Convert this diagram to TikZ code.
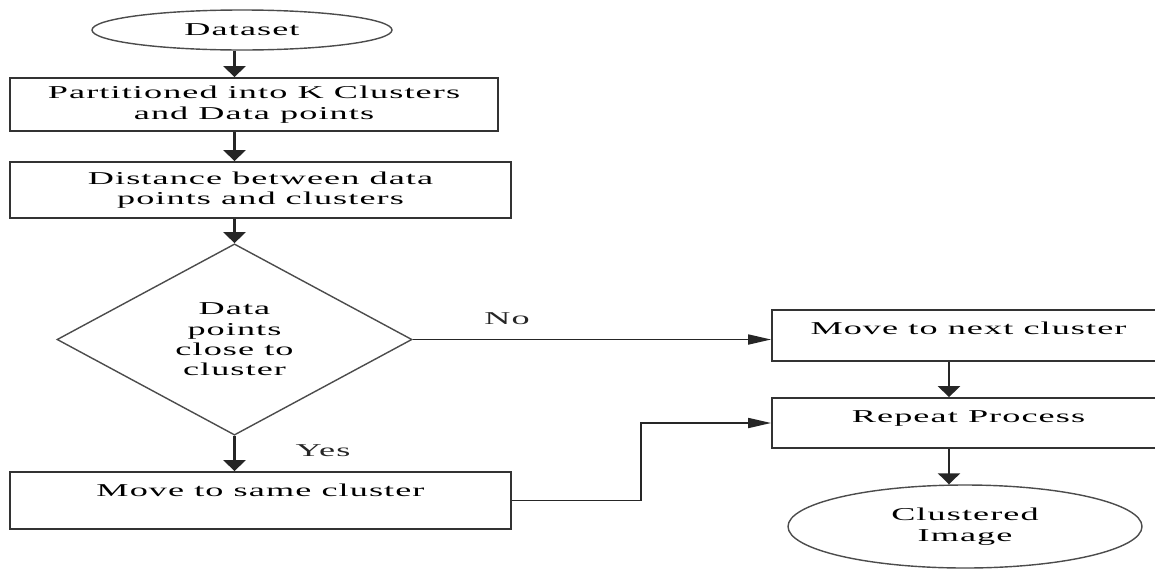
\documentclass[tikz,border=0pt]{standalone}
\usepackage{fontspec}
\setmainfont[FakeStretch=2.0, LetterSpace=6]{Liberation Serif}
\usetikzlibrary{shapes, arrows.meta, positioning, calc}

\begin{document}
\begin{tikzpicture}[
    stepbox/.style={
        rectangle,
        draw=black!80,
        line width=1pt,
        fill=white,
        align=center,
        inner sep=0pt,
        font=\flowfont
    },
    topbox/.style={
        stepbox,
        text height=0.44cm,
        text depth=#1
    },
    terminal/.style={
        ellipse,
        draw=black!70,
        line width=0.8pt,
        align=center,
        inner sep=0pt,
        font=\flowfont
    },
    decision/.style={
        diamond,
        draw=black!70,
        line width=0.8pt,
        align=center,
        inner sep=0pt,
        font=\flowfont
    },
    varrow/.style={
        -{Triangle[width=0.44cm, length=0.22cm]},
        line width=1.4pt,
        black!85
    },
    harrow/.style={
        -{Triangle[width=0.2cm, length=0.46cm]},
        line width=1pt,
        black!85
    },
    lbl/.style={
        font=\flowfont,
        text=black!85
    }
]
\providecommand{\flowfont}{\fontsize{10.3}{11.6}\selectfont}

% Frame of the picture
\clip (0,0) rectangle (23.1,-11.4);

% Main column
\node[terminal, minimum width=6.0cm, minimum height=0.8cm] (data) at (4.84,-0.6) {Dataset};
\node[stepbox, minimum width=9.76cm, minimum height=1.06cm] (part) at (5.08,-2.09) {Partitioned into K Clusters \\ and Data points};
\node[stepbox, minimum width=10.02cm, minimum height=1.12cm] (dist) at (5.21,-3.8) {Distance between data \\ points and clusters};
\node[decision, minimum width=7.1cm, minimum height=3.74cm] (close) at (4.69,-6.79) {Data \\ points \\ close to \\ cluster};
\node[topbox=0.6cm, minimum width=10.02cm, minimum height=1.14cm] (same) at (5.21,-10.01) {Move to same cluster};

% Right column
\node[topbox=0.48cm, minimum width=7.86cm, minimum height=1.02cm] (next) at (19.37,-6.71) {Move to next cluster};
\node[topbox=0.46cm, minimum width=7.86cm, minimum height=1.0cm] (repeat) at (19.37,-8.46) {Repeat Process};
\node[terminal, minimum width=7.08cm, minimum height=1.66cm] (result) at (19.3,-10.53) {Clustered \\ Image};

% Helper coordinates for the connector lines
\coordinate (spine) at (4.69,0);
\coordinate (rcol) at (18.98,0);
\coordinate (bend) at (12.82,0);

% Flow connections
\draw[varrow] (data.south -| spine) -- (part.north -| spine);
\draw[varrow] (part.south -| spine) -- (dist.north -| spine);
\draw[varrow] (dist.south -| spine) -- (close.north);
\draw[varrow] (close.south) -- (close.south |- same.north);
\draw[harrow] (close.east) -- (close.east -| next.west);
\draw[varrow] (next.south -| rcol) -- (repeat.north -| rcol);
\draw[varrow] (repeat.south -| rcol) -- (result.north -| rcol);
\draw[harrow] (same.east) -- (same.east -| bend) |- (repeat.west);

% Branch labels
\node[lbl] (no) at (10.14,-6.38) {No};
\node[lbl] (yes) at (6.46,-9.02) {Yes};

\end{tikzpicture}
\end{document}
